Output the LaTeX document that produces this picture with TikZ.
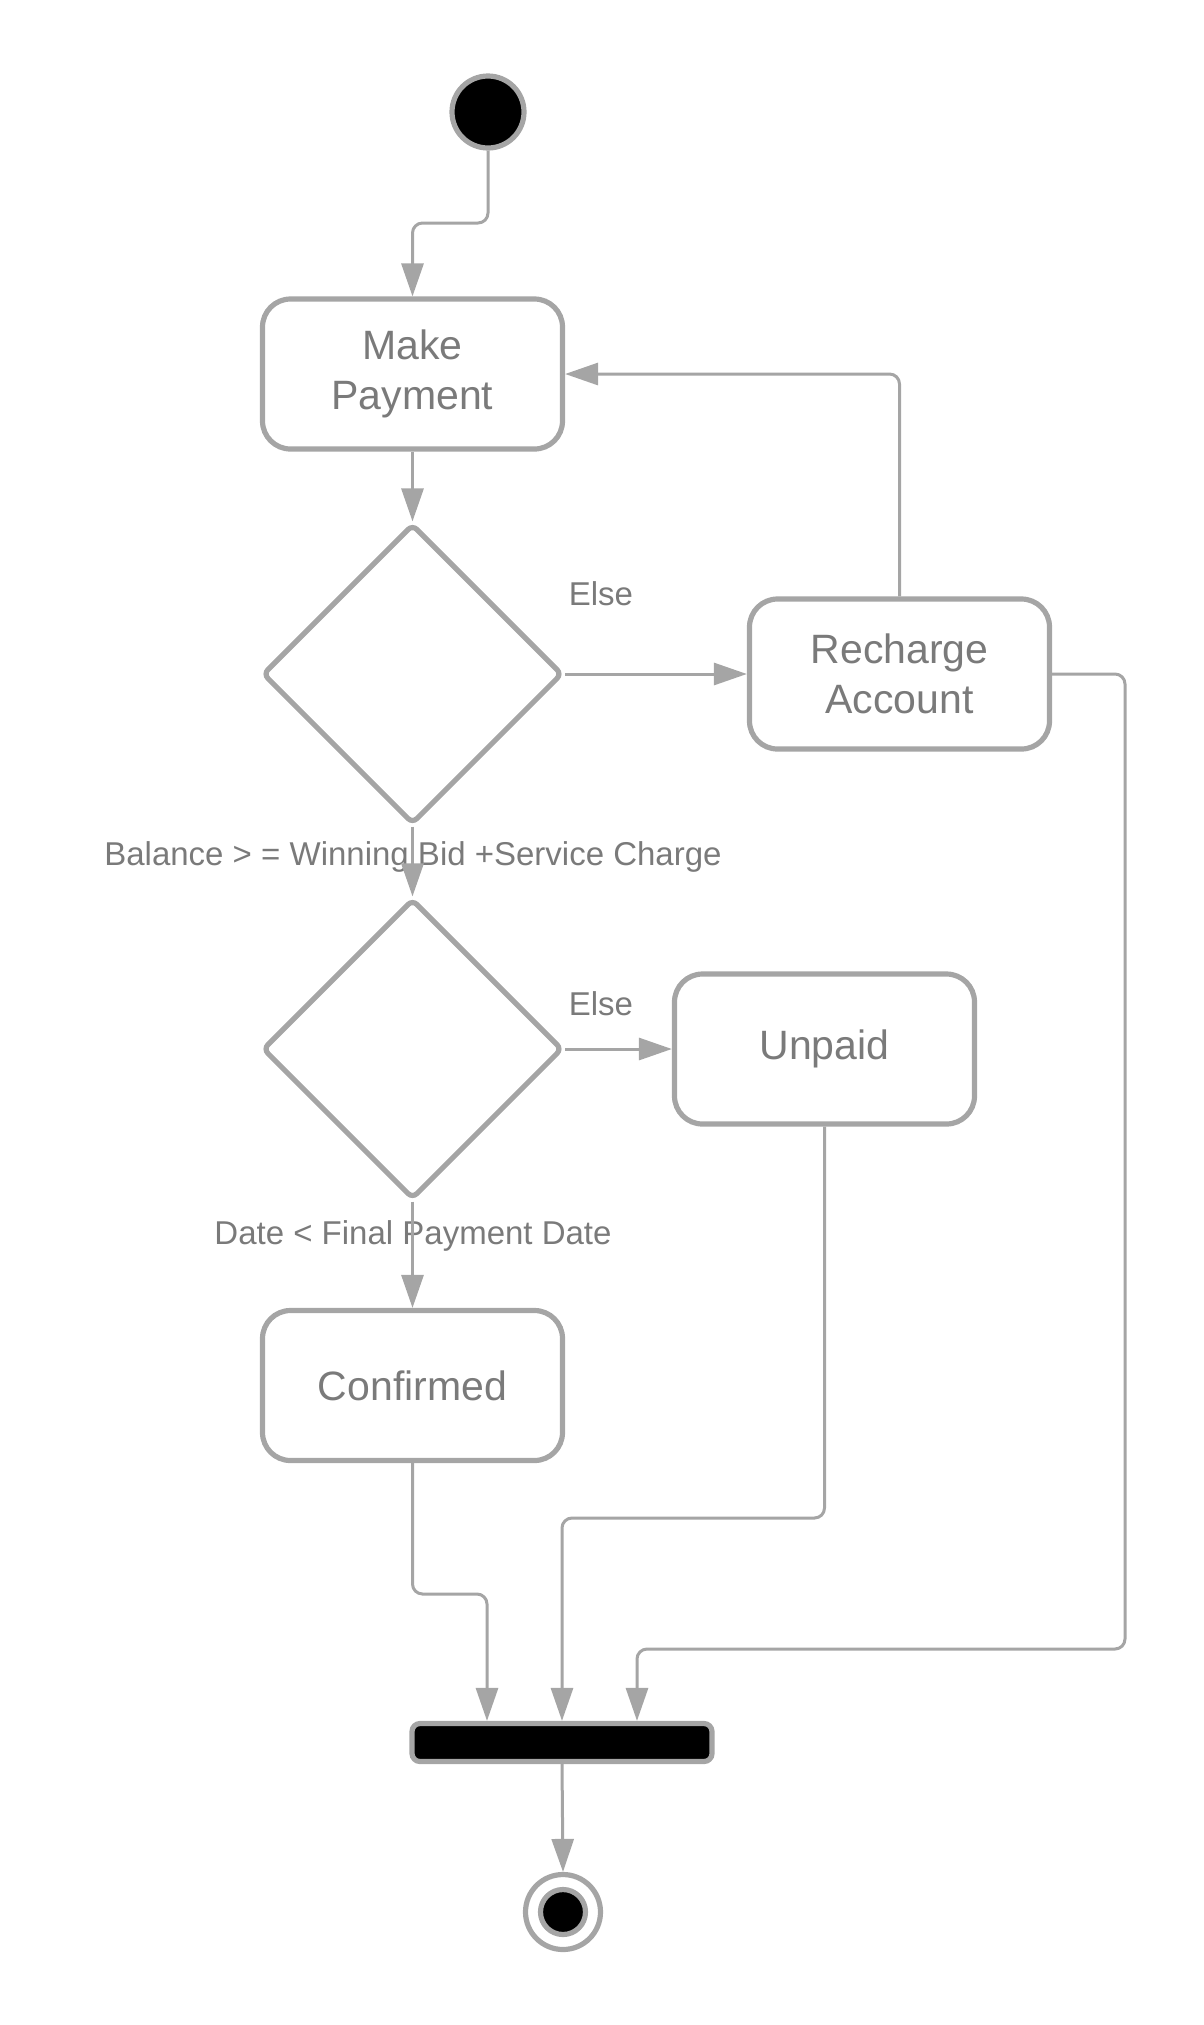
\documentclass[tikz,border=0pt]{standalone}
\usepackage{fontspec}
\setmainfont{Liberation Sans}
\usetikzlibrary{shapes.geometric,arrows.meta,calc}
\definecolor{ln}{HTML}{A5A5A5}
\definecolor{tx}{HTML}{7A7A7A}
\tikzset{
  act/.style={draw=ln,line width=2.6pt,rounded corners=14pt,minimum width=150pt,minimum height=75pt,inner sep=0pt,align=center,text=tx,font=\fontsize{20.5}{25}\selectfont},
  dec/.style={draw=ln,line width=2.6pt,diamond,aspect=1,minimum width=150pt,minimum height=150pt,inner sep=0pt,rounded corners=3pt},
  conn/.style={draw=ln,line width=1.5pt,rounded corners=5pt,-{Triangle[length=16.5pt,width=11pt]}},
  lbl/.style={text=tx,font=\fontsize{16.5}{20}\selectfont,inner sep=0pt},
}
\begin{document}
\begin{tikzpicture}[x=0.5pt,y=-0.5pt]
\useasboundingbox (0,0) rectangle (1204,2025);
% nodes
\node[circle,draw=ln,fill=black,line width=2.6pt,minimum size=36pt,inner sep=0pt] (start) at (488,112) {};
\node[act] (mp) at (412.5,374) {Make\\Payment};
\node[dec] (d1) at (412.5,674) {};
\node[act] (rc) at (899.5,674) {Recharge\\Account};
\node[dec] (d2) at (412.5,1049) {};
\node[act] (un) at (824.5,1049) {Unpaid};
\node[act] (cf) at (412.5,1385.5) {Confirmed};
\node[draw=ln,fill=black,line width=2.6pt,rounded corners=4pt,minimum width=150pt,minimum height=19pt,inner sep=0pt] (bar) at (562,1742.5) {};
\node[circle,draw=ln,line width=2.6pt,minimum size=37.5pt,inner sep=0pt] (fin) at (563,1912) {};
\node[circle,draw=ln,fill=black,line width=2.6pt,minimum size=22.5pt,inner sep=0pt] (fini) at (563,1912) {};
% labels
\node[lbl] (e1) at (601,594) {Else};
\node[lbl] (e2) at (601,1004) {Else};
\node[lbl] (g1) at (413,857) {Balance > = Winning Bid +Service Charge};
\node[lbl] (g2) at (413,1236) {Date < Final Payment Date};
% junction coordinates
\coordinate (j1) at (0,223);
\coordinate (r1) at (1125,1649);
\coordinate (u1) at (0,1518);
\coordinate (c1) at (0,1594);
\coordinate (bl) at ($(bar.north)+(-75,0)$);
\coordinate (br) at ($(bar.north)+(75,0)$);
% connectors
\draw[conn] (start.south) -- (start.south |- j1) -| (mp.north);
\draw[conn] (mp.south) -- (d1.north);
\draw[conn] (d1.east) -- (rc.west);
\draw[conn] (rc.north) |- (mp.east);
\draw[conn] (rc.east) -| (r1) -| (br);
\draw[conn] (d1.south) -- (d2.north);
\draw[conn] (d2.east) -- (un.west);
\draw[conn] (d2.south) -- (cf.north);
\draw[conn] (un.south) -- (un.south |- u1) -| (bar.north);
\draw[conn] (cf.south) -- (cf.south |- c1) -| (bl);
\draw[conn] (bar.south) -- (fin.north);
\end{tikzpicture}
\end{document}
